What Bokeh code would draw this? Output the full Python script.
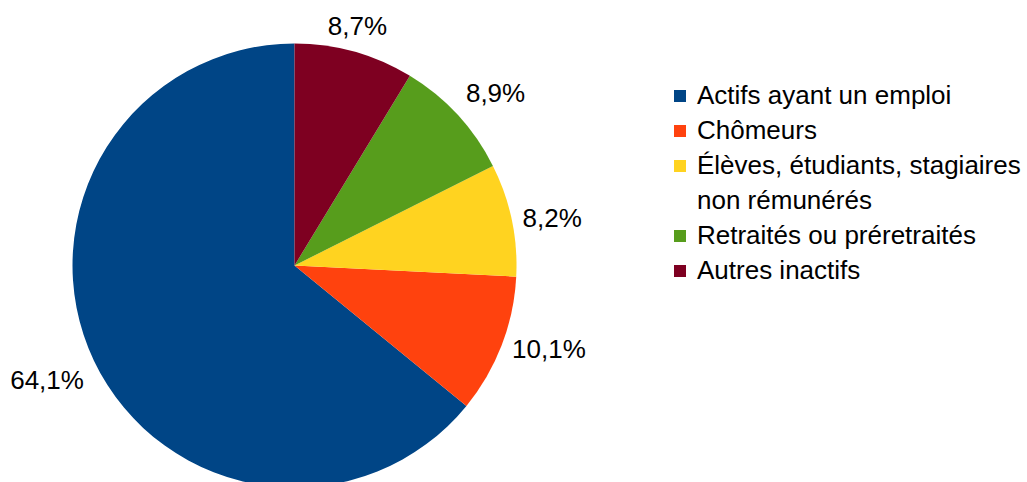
import math
from bokeh.plotting import figure
from bokeh.models import Range1d, Legend, LegendItem, ColumnDataSource
from bokeh.core.properties import value
from bokeh.embed import file_html
from bokeh.resources import INLINE

categories = [
    "Actifs ayant un emploi",
    "Chômeurs",
    "Élèves, étudiants, stagiaires\nnon rémunérés",
    "Retraités ou préretraités",
    "Autres inactifs",
]
shares = [64.1, 10.1, 8.2, 8.9, 8.7]
colors = ["#004586", "#ff420e", "#ffd320", "#579d1c", "#7e0021"]

W, H = 1027, 482
CX, CY, R = 294, 217, 222
FONT = "Liberation Sans"
FS = 26

p = figure(width=W, height=H, output_backend="svg", toolbar_location=None,
           x_range=Range1d(0, W), y_range=Range1d(0, H),
           x_axis_location=None, y_axis_location=None, min_border=0)
p.grid.visible = False
p.outline_line_color = None

total = sum(shares)
starts, ends = [], []
acc = 0.0
for s in shares:
    starts.append(math.pi / 2 + 2 * math.pi * acc / total)
    acc += s
    ends.append(math.pi / 2 + 2 * math.pi * acc / total)

src = ColumnDataSource(dict(start=starts, end=ends, color=colors,
                            x=[CX] * len(shares), y=[CY] * len(shares)))
wr = p.wedge(x="x", y="y", radius=R, start_angle="start", end_angle="end",
             fill_color="color", line_color=None, source=src)

# data labels, placed outside the pie like LibreOffice does
labels = [("%.1f" % s).replace(".", ",") + "%" for s in shares]
ALIGN = [("left", "middle"), ("left", "bottom"), ("center", "bottom"), ("right", "bottom"),
         ("right", "middle"), ("right", "top"), ("center", "top"), ("left", "top")]
rho = R * 1.05
for a0, a1, lbl in zip(starts, ends, labels):
    mid = (a0 + a1) / 2
    k = int(round(math.degrees(mid) / 45.0)) % 8
    ta, tb = ALIGN[k]
    p.text(x=[CX + rho * math.cos(mid)], y=[CY + rho * math.sin(mid)], text=[lbl],
           text_font=value(FONT), text_font_size="%dpx" % FS,
           text_align=ta, text_baseline=tb, text_color="#000000")

# legend (multi-line category split into a glyph row and a continuation row)
blank = p.wedge(x=[CX], y=[CY], radius=0, start_angle=0, end_angle=0,
                fill_alpha=0, line_alpha=0)
items = []
for i, c in enumerate(categories):
    parts = c.split("\n")
    items.append(LegendItem(label=parts[0], renderers=[wr], index=i))
    for extra in parts[1:]:
        items.append(LegendItem(label=extra, renderers=[blank], index=0))
legend = Legend(items=items, location=(672, 196))
legend.glyph_width = 15
legend.glyph_height = 15
legend.label_standoff = 10
legend.label_height = 31
legend.padding = 0
legend.margin = 0
legend.spacing = 4
legend.label_text_font = FONT
legend.label_text_font_size = "%dpx" % FS
legend.label_text_color = "#000000"
legend.border_line_alpha = 0
legend.background_fill_alpha = 0
p.add_layout(legend)

open("out.html", "w").write(file_html(p, INLINE))
